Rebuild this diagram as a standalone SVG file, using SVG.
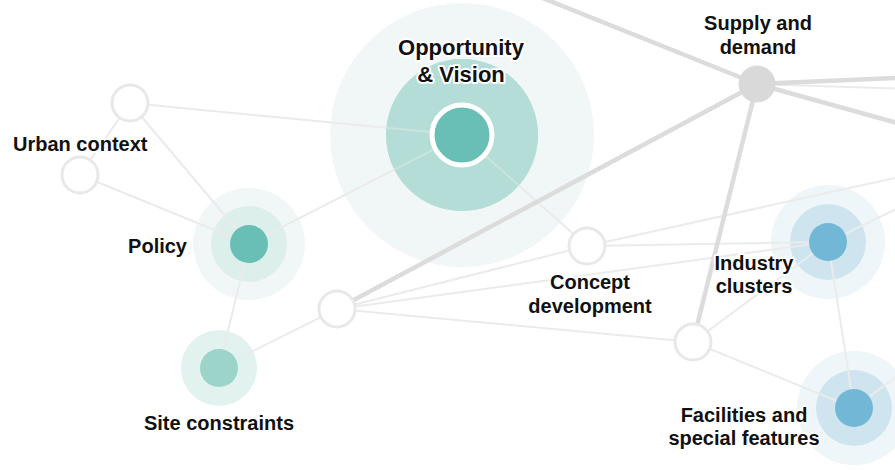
<svg xmlns="http://www.w3.org/2000/svg" width="895" height="470" viewBox="0 0 895 470">
  <style>
    .halo-out-g { fill: #f1f7f6; }
    .halo-mid-g { fill: #dcefeb; }
    .halo-out-b { fill: #eef6f9; }
    .halo-mid-b { fill: #cee4ef; }
    .dot-g { fill: #69bfb5; }
    .dot-g2 { fill: #9dd4ca; }
    .dot-b { fill: #72b8d6; }
    .hub { fill: #ffffff; stroke: #e8e8e8; stroke-width: 3; }
    .thin { stroke: #ebebeb; stroke-width: 2; fill: none; }
    .thick { stroke: #dcdcdc; stroke-width: 4.5; fill: none; }
    .lbl { font-family: "Liberation Sans", Arial, sans-serif; font-weight: bold; font-size: 20px; fill: #111111; stroke: #ffffff; stroke-width: 4; stroke-linejoin: round; paint-order: stroke; }
    .big { font-size: 22px; }
  </style>

  <!-- halos behind the connectors -->
  <g id="halos">
    <circle class="halo-out-g" cx="462" cy="135" r="132"/>
    <circle fill="#b3ddd6" cx="462" cy="135" r="76"/>
    <circle class="halo-out-g" cx="249" cy="244" r="56"/>
    <circle class="halo-mid-g" cx="249" cy="244" r="38"/>
    <circle fill="#e1f2ef" cx="219" cy="368" r="38"/>
    <circle class="halo-out-b" cx="828" cy="242" r="57"/>
    <circle class="halo-mid-b" cx="828" cy="242" r="38"/>
    <circle class="halo-out-b" cx="854" cy="408" r="57"/>
    <circle class="halo-mid-b" cx="854" cy="408" r="38"/>
  </g>

  <g id="connectors">
    <line class="thin" x1="130" y1="103" x2="462" y2="135"/>
    <line class="thin" x1="130" y1="103" x2="80" y2="175"/>
    <line class="thin" x1="130" y1="103" x2="249" y2="244"/>
    <line class="thin" x1="80" y1="175" x2="249" y2="244"/>
    <line class="thin" x1="249" y1="244" x2="462" y2="135"/>
    <line class="thin" x1="249" y1="244" x2="219" y2="368"/>
    <line class="thin" x1="219" y1="368" x2="337" y2="309"/>
    <line class="thin" x1="462" y1="135" x2="587" y2="246"/>
    <line class="thin" x1="337" y1="309" x2="587" y2="246"/>
    <line class="thin" x1="337" y1="309" x2="828" y2="242"/>
    <line class="thin" x1="337" y1="309" x2="693" y2="342"/>
    <line class="thin" x1="587" y1="246" x2="828" y2="242"/>
    <line class="thin" x1="587" y1="246" x2="940" y2="168"/>
    <line class="thin" x1="828" y1="242" x2="693" y2="342"/>
    <line class="thin" x1="828" y1="242" x2="854" y2="408"/>
    <line class="thin" x1="828" y1="242" x2="940" y2="188"/>
    <line class="thin" x1="693" y1="342" x2="854" y2="408"/>
    <line class="thin" x1="854" y1="408" x2="940" y2="344"/>
    <line class="thin" x1="757" y1="84" x2="940" y2="90"/>
    <line class="thick" x1="337" y1="309" x2="757" y2="84"/>
    <line class="thick" x1="757" y1="84" x2="540" y2="-3"/>
    <line class="thick" x1="757" y1="84" x2="940" y2="76"/>
    <line class="thick" x1="757" y1="84" x2="940" y2="135"/>
    <line class="thick" x1="757" y1="84" x2="693" y2="342"/>
  </g>

  <g id="opportunity">
    <!-- veil that softens the links crossing the inner ring -->
    <circle fill="#b3ddd6" opacity="0.6" cx="462" cy="135" r="76"/>
    <circle class="dot-g" cx="462" cy="135" r="30" stroke="#ffffff" stroke-width="5"/>
    <text class="lbl big" x="461" y="55" text-anchor="middle">Opportunity</text>
    <text class="lbl big" x="461" y="82" text-anchor="middle">&amp; Vision</text>
  </g>

  <g id="urban-context">
    <circle class="hub" cx="130" cy="103" r="18"/>
    <circle class="hub" cx="80" cy="175" r="18"/>
    <text class="lbl" x="13" y="151">Urban context</text>
  </g>

  <g id="policy">
    <circle class="dot-g" cx="249" cy="244" r="19"/>
    <text class="lbl" x="187" y="253" text-anchor="end">Policy</text>
  </g>

  <g id="site-constraints">
    <circle class="dot-g2" cx="219" cy="368" r="19"/>
    <text class="lbl" x="219" y="430" text-anchor="middle">Site constraints</text>
  </g>

  <g id="hub-left">
    <circle class="hub" cx="337" cy="309" r="18"/>
  </g>

  <g id="concept-development">
    <circle class="hub" cx="587" cy="246" r="18"/>
    <text class="lbl" x="590" y="289" text-anchor="middle">Concept</text>
    <text class="lbl" x="590" y="313" text-anchor="middle">development</text>
  </g>

  <g id="supply-demand">
    <circle fill="#d9d9d9" cx="757" cy="84" r="18.5"/>
    <text class="lbl" x="758" y="30" text-anchor="middle">Supply and</text>
    <text class="lbl" x="758" y="54" text-anchor="middle">demand</text>
  </g>

  <g id="hub-right">
    <circle class="hub" cx="693" cy="342" r="18"/>
  </g>

  <g id="industry-clusters">
    <circle class="dot-b" cx="828" cy="242" r="19"/>
    <text class="lbl" x="754" y="270" text-anchor="middle">Industry</text>
    <text class="lbl" x="754" y="293" text-anchor="middle">clusters</text>
  </g>

  <g id="facilities">
    <circle class="dot-b" cx="854" cy="408" r="19"/>
    <text class="lbl" x="744" y="422" text-anchor="middle">Facilities and</text>
    <text class="lbl" x="744" y="445" text-anchor="middle">special features</text>
  </g>
</svg>
